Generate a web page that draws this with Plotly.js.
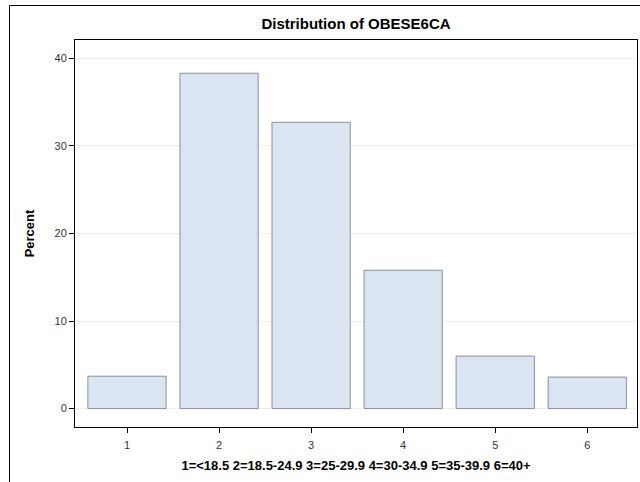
<!DOCTYPE html>
<html>
<head>
<meta charset="utf-8">
<script src="https://cdn.plot.ly/plotly-3.0.1.min.js"></script>
<style>html,body{margin:0;padding:0;background:#fff;}#chart{width:640px;height:482px;}</style>
</head>
<body>
<div id="chart"></div>
<script>
var categories = [1, 2, 3, 4, 5, 6];
var percents = [3.7, 38.3, 32.7, 15.8, 6.0, 3.6];
var tickLabels = ["1", "2", "3", "4", "5", "6"];
var yTicks = [0, 10, 20, 30, 40];
var chartTitle = "Distribution of OBESE6CA";
var xTitle = "1=<18.5 2=18.5-24.9 3=25-29.9 4=30-34.9 5=35-39.9 6=40+";
var yTitle = "Percent";

var trace = {
  type: "bar",
  x: categories,
  y: percents,
  width: 0.85,
  marker: {color: "#DBE5F1", line: {color: "#8A8F98", width: 1}},
  hoverinfo: "x+y"
};

var font = "Arial, 'Liberation Sans', sans-serif";
var layout = {
  width: 640, height: 482,
  margin: {l: 75, r: 3, t: 40, b: 55},
  paper_bgcolor: "#fff", plot_bgcolor: "#fff",
  showlegend: false,
  font: {family: font, size: 11, color: "#333"},
  title: {text: "<b>" + chartTitle + "</b>", font: {family: font, size: 15, color: "#000"},
          x: 0.5, xref: "paper", xanchor: "center", y: 1 - 24/482, yanchor: "middle"},
  xaxis: {
    range: [0.435, 6.54], tickvals: categories, ticktext: tickLabels,
    ticks: "outside", ticklen: 5, tickcolor: "#000", tickwidth: 1, ticklabelstandoff: 3,
    showline: true, linecolor: "#000", linewidth: 1, mirror: true,
    showgrid: false, zeroline: false,
    tickfont: {family: font, size: 11, color: "#333"},
    title: {text: "<b>" + xTitle + "</b>", font: {family: font, size: 13, color: "#000"}, standoff: 10}
  },
  yaxis: {
    range: [-2.1, 42.1], tickvals: yTicks,
    ticks: "outside", ticklen: 5, tickcolor: "#000", tickwidth: 1,
    showline: true, linecolor: "#000", linewidth: 1, mirror: true,
    showgrid: true, gridcolor: "#EDEDED", gridwidth: 1, zeroline: false,
    tickfont: {family: font, size: 11, color: "#333"},
    title: {text: "<b>" + yTitle + "</b>", font: {family: font, size: 13, color: "#000"}, standoff: 16}
  },
  shapes: [
    {type: "line", xref: "paper", yref: "paper", x0: (9.5-75)/562, x1: 1.2, y0: 1 + (40-5.5)/387, y1: 1 + (40-5.5)/387, line: {color: "#000", width: 1}},
    {type: "line", xref: "paper", yref: "paper", x0: (9.5-75)/562, x1: (9.5-75)/562, y0: 1 + (40-5.5)/387, y1: -0.3, line: {color: "#000", width: 1}}
  ]
};

Plotly.newPlot("chart", [trace], layout, {displayModeBar: false, staticPlot: true});
</script>
</body>
</html>
